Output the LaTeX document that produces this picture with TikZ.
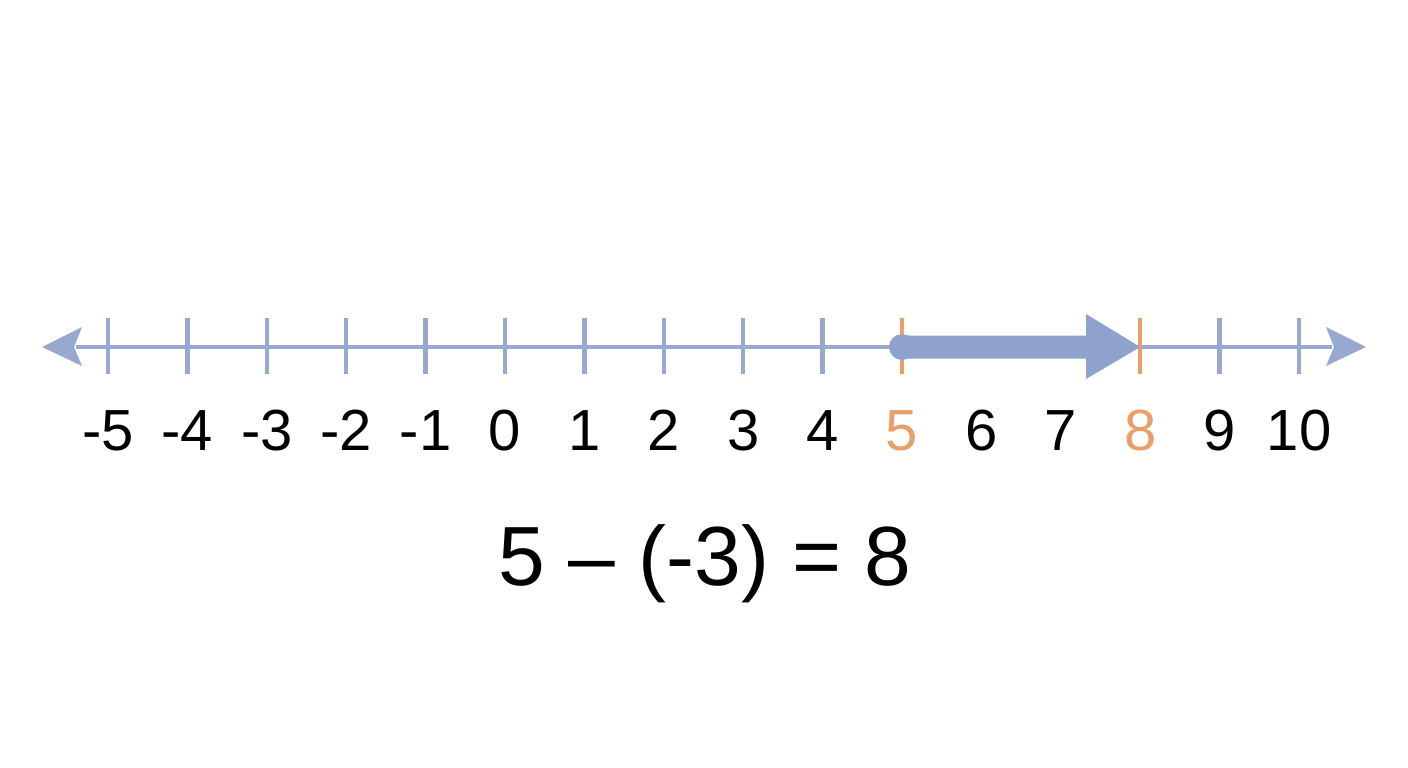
\documentclass[tikz,border=0pt]{standalone}
\usepackage{fontspec}
\setmainfont{Liberation Sans}
\definecolor{axisblue}{HTML}{97A9D1}
\definecolor{arrowblue}{HTML}{8FA2CE}
\definecolor{orng}{HTML}{E9A068}
\tikzset{
  axisline/.style={draw=axisblue, line width=4pt},
  tickmark/.style={draw=axisblue, line width=4.5pt},
  otick/.style={draw=orng, line width=4pt},
  numlabel/.style={font=\fontsize{58}{60}\selectfont, text=black, inner sep=0pt, anchor=base},
  olabel/.style={numlabel, text=orng},
}
\begin{document}
\begin{tikzpicture}[x=1pt,y=-1pt]
\useasboundingbox (0,0) rectangle (1408,768);
% axis
\coordinate (L) at (42,347);
\coordinate (R) at (1366,347);
\draw[axisline] (76,347) -- (1332,347);
\fill[axisblue] (L) -- (82,327) -- (74,347) -- (82,366) -- cycle;
\fill[axisblue] (R) -- (1326,327) -- (1334,347) -- (1326,366) -- cycle;
% ticks and labels
\foreach \n in {-5,...,10}{
  \pgfmathsetmacro{\xx}{108+(\n+5)*79.4}
  \coordinate (t\n) at (\xx,347);
}
\foreach \n in {-5,-4,-3,-2,-1,0,1,2,3,4,9,10}{
  \draw[tickmark] ([yshift=29pt]t\n) -- ([yshift=-27pt]t\n);
}
\foreach \n in {-5,-4,-3,-2,-1,0,1,2,3,4,6,7,9,10}{
  \node[numlabel] (l\n) at ([yshift=-103pt]t\n) {\n};
}
\foreach \n in {5,8}{
  \draw[otick] ([yshift=29pt]t\n) -- ([yshift=-27pt]t\n);
  \node[olabel] (l\n) at ([yshift=-103pt]t\n) {\n};
}
% movement arrow
\fill[arrowblue] (t5) circle (13);
\fill[arrowblue] ([yshift=11.5pt]t5) -- (1086,335.5) -- (1086,314) -- (t8) -- (1086,379) -- (1086,358.5) -- ([yshift=-11.5pt]t5) -- cycle;
% equation
\node[font=\fontsize{84}{86}\selectfont, inner sep=0pt, anchor=base] (eq) at (705,585) {5 – (-3) = 8};
\end{tikzpicture}
\end{document}
